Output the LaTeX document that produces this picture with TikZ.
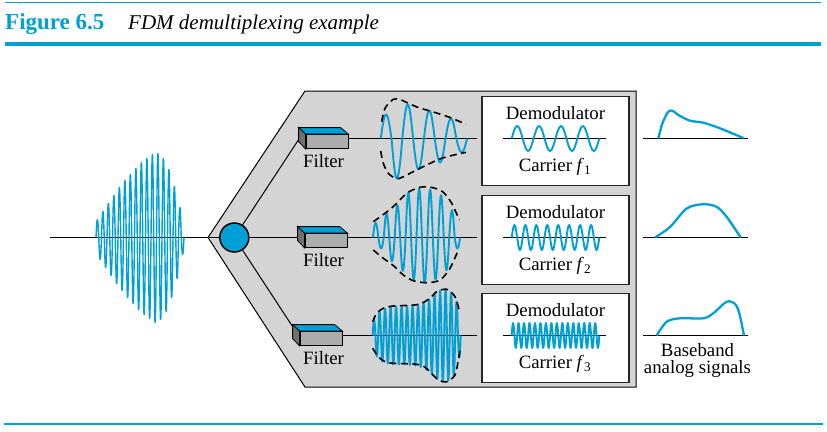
\documentclass[tikz,border=0pt]{standalone}
\usepackage{fontspec}
\setmainfont{Liberation Serif}
\definecolor{sigblue}{HTML}{00A0D6}
\definecolor{panelgray}{HTML}{D4D4D4}
\tikzset{
  sig/.style={draw=sigblue,line width=1.9pt,line join=round},
  env/.style={draw=black,line width=1.6pt,dash pattern=on 7pt off 4.5pt},
  axis/.style={draw=black,line width=1pt},
  lbl/.style={font=\fontsize{18.8}{20}\selectfont,anchor=base,inner sep=0pt},
  demod/.style={draw=black!85,fill=white,line width=1.3pt,minimum width=147pt,minimum height=89pt,inner sep=0pt},
  filt/.style={draw=black,fill=gray!65,line width=0.8pt,minimum width=42pt,minimum height=14pt,inner sep=0pt}
}
\begin{document}
\begin{tikzpicture}[x=1pt,y=-1pt]
\useasboundingbox (0,0) rectangle (827,431);
% rules and caption
\draw[sigblue,line width=1.5pt] (5,2.5) -- (821,2.5);
\draw[sigblue,line width=4.5pt] (5,43.8) -- (821,43.8);
\draw[sigblue,line width=1.8pt] (4,424) -- (823,424);
\node[anchor=base west,inner sep=0pt,text=sigblue,font=\fontsize{23}{25}\bfseries\selectfont] (fig) at (5,29) {Figure 6.5};
\node[anchor=base west,inner sep=0pt,font=\fontsize{21}{24}\itshape\selectfont] (cap) at (128,29) {FDM demultiplexing example};

% panel
\draw[fill=panelgray,line width=1pt] (208,237.5) -- (305,91) -- (636,91) -- (636,387) -- (305,387) -- cycle;

% input signal
\coordinate (in) at (50,237.5);
\node[circle,draw,fill=sigblue,line width=1.5pt,minimum size=29pt,inner sep=0pt] (c) at (234.3,237.5) {};
\draw[axis] (in) -- (c);
\draw[sig,line width=1.4pt] (96,237.5) foreach \a in {18,-22,26,-30,34,-38,42,-46,50,-53,57,-60,63,-66,69,-72,75,-77,79,-81,83,-85,84,-82,79,-74,68,-60,51,-41,30,-17}
  { sin ++(1.375,0-\a) cos ++(1.375,\a) };

% filters and demodulators
\coordinate (lf1) at (299,139);
\coordinate (lf2) at (298,237.5);
\coordinate (lf3) at (293.5,328);
\foreach \n in {1,2,3}
  \draw[axis] (c) -- (lf\n);

\foreach \n/\x/\r/\c/\q in {1/327/138.5/4/5.475, 2/326/237.5/8/2.7375, 3/321/335.5/16/1.36875}{
  \node[demod] (dm\n) at (555.5,\r+2.5) {};
  \node[lbl] (dt\n) at (555.5,\r-19) {Demodulator};
  \node[lbl] (ct\n) at (555,\r+33.4) {Carrier \textit{f}\textsubscript{\n}};
  \draw[axis] (503,\r) -- (606,\r);
  \draw[sig] (511.7,\r) foreach \k in {1,...,\c}
    { sin ++(\q,-12.5) cos ++(\q,12.5) sin ++(\q,12.5) cos ++(\q,-12.5) };
  \node[filt] (f\n) at (\x,\r+3) {};
  \draw[fill=gray!40!black!70,line width=0.8pt] (f\n.north west) -- ++(-7,-6.5) -- ++(0,14) -- (f\n.south west) -- cycle;
  \draw[fill=sigblue,line width=0.8pt] (f\n.north west) -- ++(-7,-6.5) -- ++(42,0) -- (f\n.north east) -- cycle;
  \node[lbl] (fl\n) at (323.5,\r+29) {Filter};
  \coordinate (r\n) at (477,\r);
  \draw[axis] (f\n.east |- r\n) -- (r\n);
  \draw[axis] (643,\r) -- (748,\r);
}

% filtered signals
\draw[sig] (380.7,138.5) foreach \a in {24,-40,34,-31,28,-24,20,-14}
  { sin ++(5.4,0-\a) cos ++(5.4,\a) };
\draw[env] plot[smooth] coordinates {(381.7,121.7) (385,108.3) (393.3,99.3) (400,99.5) (406.7,102.5) (418.3,107.5) (435,112.5) (450,117.5) (466,124.3)};
\draw[env] plot[smooth] coordinates {(380.7,151) (383.3,163.3) (388.3,173.3) (396,178.5) (402,177.3) (420,168.3) (441.7,158.3) (466,152.3)};

\draw[sig] (372.9,237.5) foreach \a in {14.7,-11,24,-23.7,32.3,-33.3,44.7,-42,49,-45.3,48,-42,42.3,-32.7,27.3,-11}
  { sin ++(2.725,0-\a) cos ++(2.725,\a) };
\draw[env] plot[smooth] coordinates {(373.3,221.7) (385,213.3) (395,205) (406.7,193.3) (420,187.3) (432,187.5) (443,192) (451.7,203.3) (459.3,220)};
\draw[env] plot[smooth] coordinates {(373.3,250) (383.3,258.3) (393.3,265.5) (403.3,275) (413.3,280.7) (426.7,282.7) (440,280) (450,268.3) (458.3,250)};

\draw[sig] (372.7,335.5) foreach \a in {16,-21,24,-26,27,-28,28.5,-29,29,-29,29,-29,29.5,-29.5,29.5,-30,30.5,-31.5,33,-34.5,36,-39,41.5,-43.5,45,-46,46,-45,43,-40,34,-22}
  { sin ++(1.375,0-\a) cos ++(1.375,\a) };
\draw[env] plot[smooth] coordinates {(372.7,321.7) (376.7,313.3) (383.3,308.3) (393.3,306) (410,305.3) (420,304) (430,298.3) (436.7,291.7) (446.7,289.3) (455,296.7) (460,313.3)};
\draw[env] plot[smooth] coordinates {(372.7,348.3) (378.3,356.7) (385,361.7) (393.3,363.3) (413.3,364) (423.3,366) (430,371.7) (438.3,380) (446.7,381.7) (455,375) (458.3,360) (460,350)};

% baseband outputs
\draw[sig,line width=2.3pt] plot[smooth] coordinates {(658.3,138.5) (662.5,123) (668.3,111.7) (673,111) (678.3,115) (690,120.7) (703.3,122.7) (720,128.3) (743.3,138)};
\draw[sig,line width=2.3pt] plot[smooth] coordinates {(655,237.5) (670,227) (686.7,208.5) (703.3,204.2) (716.7,206.9) (726.7,216.9) (740.7,237.5)};
\draw[sig,line width=2.3pt] plot[smooth] coordinates {(656.7,335.5) (666.7,321.7) (680,318.3) (703.3,318.3) (713.3,313.3) (726.7,301.7) (735,304) (739.3,313.3) (744,335.5)};
\node[lbl] (bb1) at (697.5,356) {Baseband};
\node[lbl] (bb2) at (697.5,373) {analog signals};
\end{tikzpicture}
\end{document}
